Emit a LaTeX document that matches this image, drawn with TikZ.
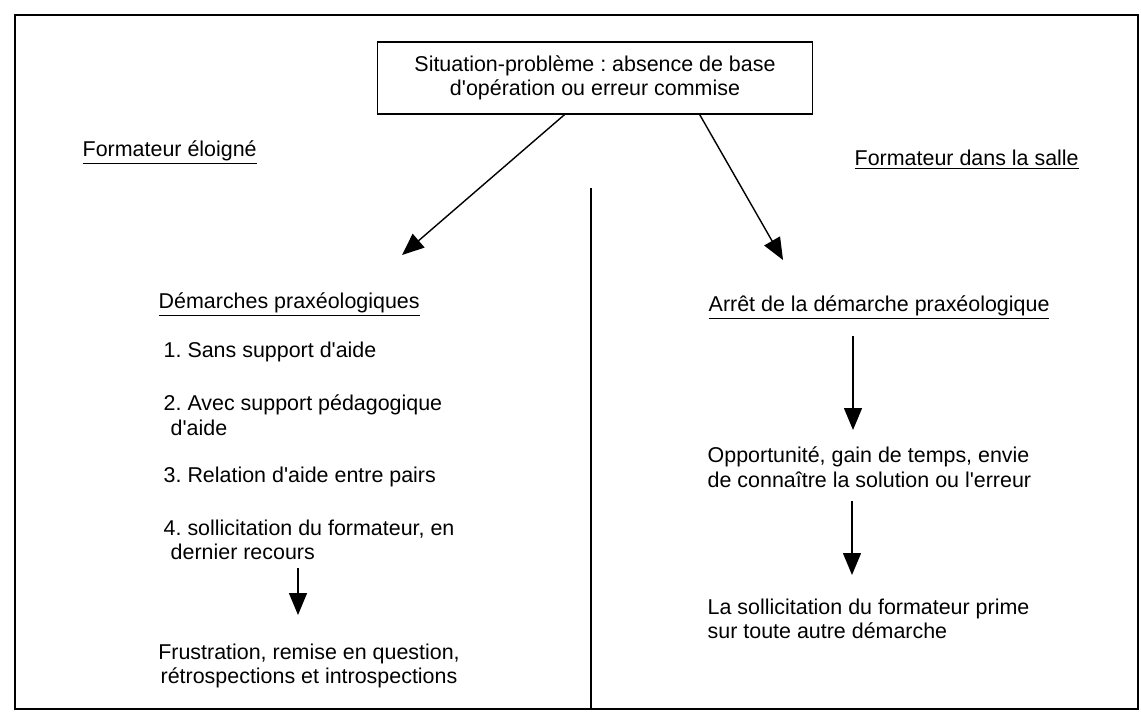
\documentclass[tikz,border=0pt]{standalone}
\usepackage{fontspec}
\setmainfont{Liberation Sans}[Ligatures=TeXOff]
\usetikzlibrary{arrows.meta,positioning,calc}

\tikzset{
  txt/.style={anchor=west,inner sep=0pt,align=left,
    font=\fontsize{12.2pt}{13.9pt}\selectfont},
  flow/.style={line width=0.8pt,-{Triangle[length=0.44cm,width=0.36cm]}},
}

\begin{document}
\frenchspacing
\begin{tikzpicture}[x=0.02cm,y=-0.02cm,line width=0.8pt]
        \useasboundingbox (0,0) rectangle (1141,727);

        % frame and divider
        \coordinate (fnw) at (15,15);
        \coordinate (fse) at (1138,709);
        \coordinate (divtop) at (591,188);
        \draw[line width=1pt] (fnw) rectangle (fse);
        \draw (divtop) -- (divtop |- fse);

        % problem box
        \node[draw,inner sep=0pt,minimum width=8.7cm,minimum height=1.44cm,
              align=center,font=\fontsize{12.2pt}{13.9pt}\selectfont] (sit) at (595,78)
              {Situation-problème : absence de base\\d'opération ou erreur commise};

        % headings
        \node[txt] (loin) at (82,153) {\underline{Formateur éloigné}};
        \node[txt] (salle) at (854,160) {\underline{Formateur dans la salle}};

        % left column
        \node[txt] (demarches) at (158,305) {\underline{Démarches praxéologiques}};
        \node[txt] (sans) at (163,352) {1. Sans support d'aide};
        \node[txt] (avec) at (163,415) {2. Avec support pédagogique\\\hspace*{0.14cm}d'aide};
        \node[txt] (pairs) at (163,477) {3. Relation d'aide entre pairs};
        \node[txt] (sollic) at (163,540) {4. sollicitation du formateur, en\\\hspace*{0.14cm}dernier recours};
        \node[txt,anchor=center,align=center] (frust) at (309,666)
              {Frustration, remise en question,\\rétrospections et introspections};

        % right column
        \node[txt] (arret) at (708,308) {\underline{Arrêt de la démarche praxéologique}};
        \node[txt] (opport) at (707,467) {Opportunité, gain de temps, envie\\de connaître la solution ou l'erreur};
        \node[txt] (prime) at (707,619) {La sollicitation du formateur prime\\sur toute autre démarche};

        % arrow tips
        \coordinate (tipL) at (402,255);
        \coordinate (tipR) at (783,260);
        \coordinate (tipF) at (298,615);
        \coordinate (tipO) at (853,430);
        \coordinate (tipP) at (852,575);

        % arrows
        \draw[flow] ($(sit.south west)!0.43!(sit.south east)$) -- (tipL);
        \draw[flow] ($(sit.south west)!0.74!(sit.south east)$) -- (tipR);
        \draw[flow] ([yshift=-0.14cm]sollic.south -| tipF) -- (tipF);
        \draw[flow] ([yshift=-0.3cm]arret.south -| tipO) -- (tipO);
        \draw[flow] ([yshift=-0.26cm]opport.south -| tipP) -- (tipP);
\end{tikzpicture}
\end{document}
